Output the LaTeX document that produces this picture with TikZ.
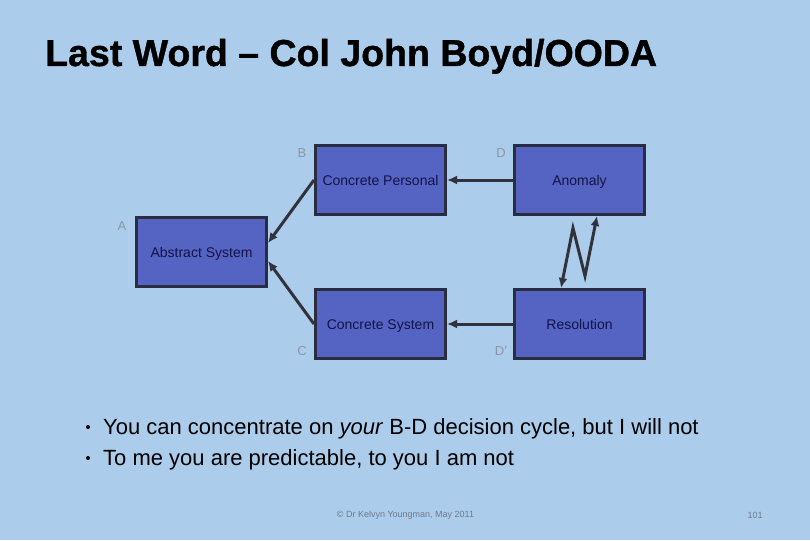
\documentclass[tikz,border=0pt]{standalone}
\usepackage{fontspec}
\setmainfont{Liberation Sans}
\usetikzlibrary{arrows.meta,calc}
\definecolor{bg}{RGB}{171,204,234}
\definecolor{boxfill}{RGB}{85,99,195}
\definecolor{boxline}{RGB}{42,45,64}
\definecolor{boxtext}{RGB}{20,20,70}
\definecolor{lbl}{RGB}{140,150,168}
\definecolor{arr}{RGB}{50,50,60}
\definecolor{foot}{RGB}{110,122,140}
\begin{document}
\begin{tikzpicture}[x=1pt,y=-1pt,
  box/.style={draw=boxline,fill=boxfill,line width=3pt,minimum width=130pt,minimum height=69pt,inner sep=0pt,text height=10pt,text depth=0pt,font=\fontsize{14}{16}\selectfont,text=boxtext},
  lab/.style={font=\fontsize{13}{15}\selectfont,text=lbl,inner sep=0pt},
  conn/.style={draw=arr,line width=3pt,-{Latex[length=10pt,width=9pt]}},
  bul/.style={anchor=base west,inner sep=0pt,font=\fontsize{22}{26}\selectfont},
  dot/.style={circle,fill=black,inner sep=0pt,minimum size=4pt},
  foottext/.style={inner sep=0pt,font=\fontsize{9}{11}\selectfont,text=foot},
]
\fill[bg] (0,0) rectangle (810,540);
\useasboundingbox (0,0) rectangle (810,540);

\node[anchor=base west,inner sep=0pt,font=\fontsize{37.5}{40}\selectfont\bfseries\addfontfeature{FakeBold=1}] (title) at (45,66) {Last Word – Col John Boyd/OODA};

\node[box] (cp) at (380.5,180) {Concrete Personal};
\node[box] (ano) at (579.5,180) {Anomaly};
\node[box] (abs) at (201.5,252) {Abstract System};
\node[box] (cs) at (380.5,324) {Concrete System};
\node[box] (res) at (579.5,324) {Resolution};

\node[lab] (lB) at (302,153) {B};
\node[lab] (lD) at (501,153) {D};
\node[lab] (lA) at (122,226) {A};
\node[lab] (lC) at (302,351) {C};
\node[lab] (lD2) at (501,351) {D'};

\draw[conn] (cp.west) -- ([yshift=9pt]abs.east);
\draw[conn] (cs.west) -- ([yshift=-9pt]abs.east);
\draw[conn] (ano.west) -- (cp.east);
\draw[conn] (res.west) -- (cs.east);
\coordinate (z1) at (573,228);
\coordinate (z2) at (585,276);
\draw[conn,{Latex[length=10pt,width=9pt]}-{Latex[length=10pt,width=9pt]}] ([xshift=-18.5pt]res.north) -- (z1) -- (z2) -- ([xshift=17.5pt]ano.south);

\node[dot] (d1) at (88,427) {};
\node[bul] (t1) at (103,434) {You can concentrate on \textit{your} B-D decision cycle, but I will not};
\node[dot] (d2) at (88,458) {};
\node[bul] (t2) at (103,465) {To me you are predictable, to you I am not};

\node[foottext] (f1) at (405.5,515) {© Dr Kelvyn Youngman, May 2011};
\node[foottext] (f2) at (755,515) {101};
\end{tikzpicture}
\end{document}
